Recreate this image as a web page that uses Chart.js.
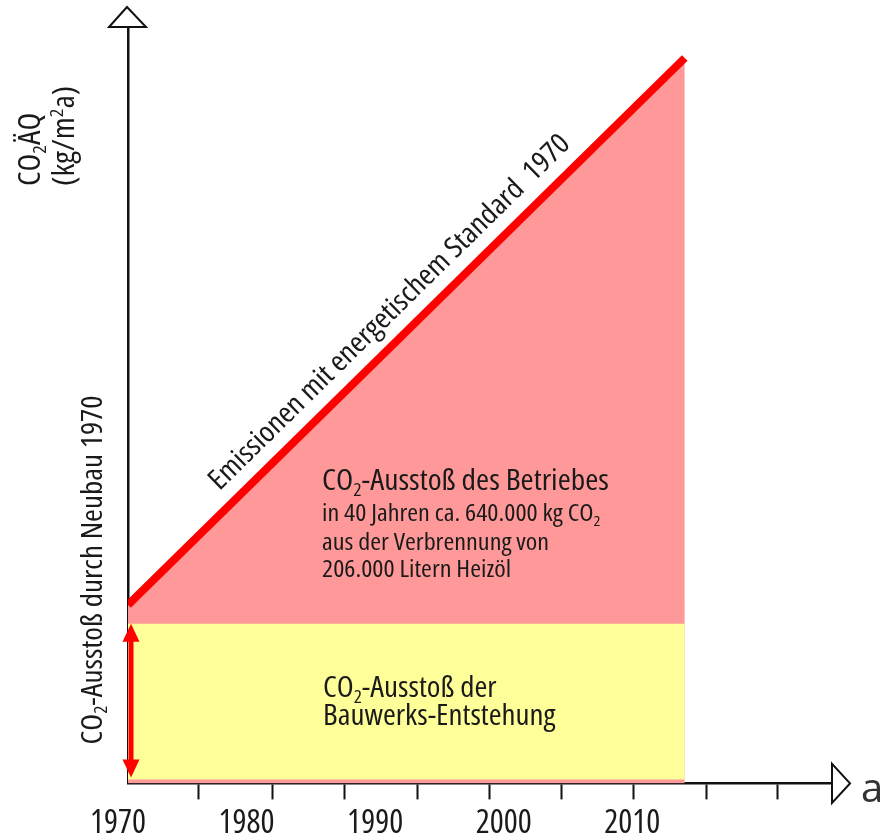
<!DOCTYPE html>
<html>
<head>
    <title>CO2-Ausstoß Neubau 1970</title>
    <meta charset="utf-8" />
    <script src="https://cdn.jsdelivr.net/npm/chart.js@4.4.1/dist/chart.umd.min.js"></script>
    <style>
        html, body { margin: 0; padding: 0; background: #fff; }
        #wrap { width: 883px; height: 839px; }
    </style>
</head>
<body>
<div id="wrap"><canvas id="chart"></canvas></div>

<script>
// schematic values, y axis in arbitrary units (0..100)
var years = [1970, 2013.3];
var operationLevel = [23.6, 95.9];      // Emissionen mit energetischem Standard 1970
var constructionLevel = [21.1, 21.1];   // Bauwerks-Entstehung
var constructionBase = 0.5;

// axis ticks
var labelYears = [1970, 1980, 1990, 2000, 2010];
var tickMarkYears = [1975.5, 1981.2, 1986.8, 1992.5, 1998.1, 2003.7, 2009.3, 2015.0, 2020.5];

var FAMILY = "'Open Sans', sans-serif";
var INK = '#1a1a1a';
var STRETCH = 1.09;   // condensed Open Sans is a bit narrower than the original face

function cfont(size) {
    return 'condensed ' + size + 'px ' + FAMILY;
}

// draw text made of parts: [text, mode] with mode 0 normal, 1 subscript, 2 superscript
function drawRich(ctx, parts, size, x, y, align) {
    var w = 0;
    parts.forEach(function(p) {
        ctx.font = cfont(p[1] ? size * 0.62 : size);
        w += ctx.measureText(p[0]).width;
    });
    ctx.save();
    ctx.translate(x, y);
    ctx.scale(STRETCH, 1);
    var cx = align === 'center' ? -w / 2 : 0;
    parts.forEach(function(p) {
        var s = p[1] ? size * 0.62 : size;
        ctx.font = cfont(s);
        var dy = p[1] === 1 ? size * 0.2 : (p[1] === 2 ? -size * 0.36 : 0);
        ctx.fillText(p[0], cx, dy);
        cx += ctx.measureText(p[0]).width;
    });
    ctx.restore();
}

var decorations = {
    id: 'decorations',
    afterDatasetsDraw: function(chart) {
        var ctx = chart.ctx;
        var area = chart.chartArea;
        var xs = chart.scales.x;
        var ys = chart.scales.y;
        ctx.save();

        // axis arrow heads
        ctx.lineWidth = 2;
        ctx.strokeStyle = '#111';
        ctx.fillStyle = '#fff';
        ctx.beginPath();
        ctx.moveTo(area.left - 1, area.top - 20);
        ctx.lineTo(area.left - 19, area.top);
        ctx.lineTo(area.left + 18, area.top);
        ctx.closePath();
        ctx.fill();
        ctx.stroke();

        ctx.beginPath();
        ctx.moveTo(area.right + 18, area.bottom);
        ctx.lineTo(area.right, area.bottom - 19.5);
        ctx.lineTo(area.right, area.bottom + 19.5);
        ctx.closePath();
        ctx.fill();
        ctx.stroke();

        // double arrow for construction emissions
        var ax = xs.getPixelForValue(years[0]) + 3;
        var aTop = ys.getPixelForValue(constructionLevel[0]);
        var aBot = ys.getPixelForValue(constructionBase) - 2;
        ctx.fillStyle = '#ff0000';
        ctx.fillRect(ax - 2.5, aTop + 10, 5, aBot - aTop - 20);
        ctx.beginPath();
        ctx.moveTo(ax, aTop);
        ctx.lineTo(ax - 8.5, aTop + 18);
        ctx.lineTo(ax + 8.5, aTop + 18);
        ctx.closePath();
        ctx.fill();
        ctx.beginPath();
        ctx.moveTo(ax, aBot);
        ctx.lineTo(ax - 8.5, aBot - 18);
        ctx.lineTo(ax + 8.5, aBot - 18);
        ctx.closePath();
        ctx.fill();

        ctx.fillStyle = INK;
        ctx.textBaseline = 'alphabetic';
        ctx.textAlign = 'left';

        // y axis title
        ctx.save();
        ctx.translate(40, 186);
        ctx.rotate(-Math.PI / 2);
        drawRich(ctx, [['CO', 0], ['2', 1], ['ÄQ', 0]], 30, 0, 0);
        ctx.restore();
        ctx.save();
        ctx.translate(74, 186);
        ctx.rotate(-Math.PI / 2);
        drawRich(ctx, [['(kg/m', 0], ['2', 2], ['a)', 0]], 30, 0, 0);
        ctx.restore();

        // vertical label next to the double arrow
        ctx.save();
        ctx.translate(101.5, 570);
        ctx.rotate(-Math.PI / 2);
        drawRich(ctx, [['CO', 0], ['2', 1], ['-Ausstoß durch Neubau 1970', 0]], 28.5, 0, 0, 'center');
        ctx.restore();

        // label along the emission line
        var p1 = { x: xs.getPixelForValue(years[0]), y: ys.getPixelForValue(operationLevel[0]) };
        var p2 = { x: xs.getPixelForValue(years[1]), y: ys.getPixelForValue(operationLevel[1]) };
        var len = Math.hypot(p2.x - p1.x, p2.y - p1.y);
        var dx = (p2.x - p1.x) / len, dy = (p2.y - p1.y) / len;
        ctx.save();
        ctx.translate(p1.x + 145 * dx + 17 * dy, p1.y + 145 * dy - 17 * dx);
        ctx.rotate(Math.atan2(dy, dx));
        drawRich(ctx, [['Emissionen mit energetischem Standard  1970', 0]], 28.5, 0, 0);
        ctx.restore();

        // operation emissions text
        drawRich(ctx, [['CO', 0], ['2', 1], ['-Ausstoß des Betriebes', 0]], 29, 322, 490);
        drawRich(ctx, [['in 40 Jahren ca. 640.000 kg CO', 0], ['2', 1]], 24, 322, 521);
        drawRich(ctx, [['aus der Verbrennung von', 0]], 24, 322, 550);
        drawRich(ctx, [['206.000 Litern Heizöl', 0]], 24, 322, 577);

        // construction emissions text
        drawRich(ctx, [['CO', 0], ['2', 1], ['-Ausstoß der', 0]], 28.5, 323, 697);
        drawRich(ctx, [['Bauwerks-Entstehung', 0]], 28.5, 323, 725);

        // x axis unit
        ctx.fillStyle = '#333';
        ctx.font = '40px ' + FAMILY;
        ctx.fillText('a', 861, 802);

        ctx.restore();
    }
};

var chart = new Chart(document.getElementById('chart'), {
    type: 'line',
    data: {
        datasets: [{
            // yellow block, drawn above the pink fill
            data: years.map(function(y, i) { return { x: y, y: constructionLevel[i] }; }),
            borderColor: 'rgba(0,0,0,0)',
            borderWidth: 0,
            backgroundColor: '#ffff99',
            fill: { value: constructionBase },
            pointRadius: 0
        }, {
            data: years.map(function(y, i) { return { x: y, y: operationLevel[i] }; }),
            borderColor: '#ff0000',
            borderWidth: 8,
            borderCapStyle: 'butt',
            backgroundColor: '#ff9999',
            fill: 'origin',
            pointRadius: 0
        }]
    },
    options: {
        responsive: true,
        maintainAspectRatio: false,
        devicePixelRatio: 1,
        animation: false,
        layout: { padding: { left: 128, right: 51, top: 27, bottom: -8 } },
        plugins: { legend: { display: false }, tooltip: { enabled: false } },
        scales: {
            x: {
                type: 'linear',
                min: 1970,
                max: 2024.75,
                afterBuildTicks: function(axis) {
                    var all = labelYears.concat(tickMarkYears).sort(function(a, b) { return a - b; });
                    axis.ticks = all.map(function(v) { return { value: v }; });
                },
                ticks: {
                    autoSkip: false,
                    maxRotation: 0,
                    labelOffset: -10,
                    padding: 4,
                    color: INK,
                    font: { family: FAMILY, size: 33, weight: '400 condensed', lineHeight: 1.2 },
                    callback: function(v) { return labelYears.indexOf(v) >= 0 ? String(v) : ''; }
                },
                grid: {
                    drawOnChartArea: false,
                    drawTicks: true,
                    tickLength: 16,
                    tickWidth: 2,
                    tickColor: function(c) {
                        return c.tick && tickMarkYears.indexOf(c.tick.value) >= 0 ? '#111' : 'rgba(0,0,0,0)';
                    }
                },
                border: { display: true, color: '#111', width: 2.5 }
            },
            y: {
                min: 0,
                max: 100,
                ticks: { display: false },
                grid: { display: false, drawTicks: false },
                border: { display: true, color: '#111', width: 2.5 }
            }
        }
    },
    plugins: [decorations]
});
</script>
</body>
</html>
